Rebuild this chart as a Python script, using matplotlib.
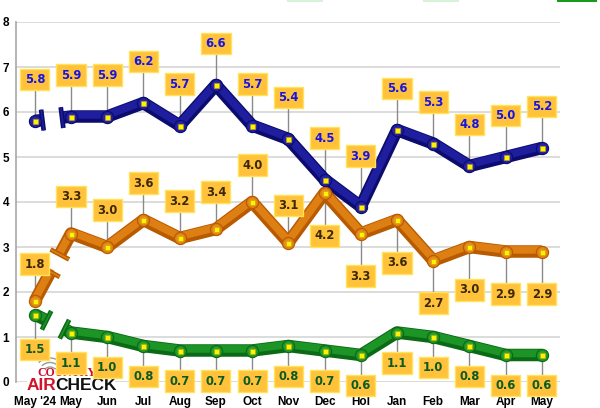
import numpy as np
import matplotlib
matplotlib.use("Agg")
import matplotlib.pyplot as plt
import matplotlib.transforms as mtransforms
from matplotlib.patches import Rectangle, Arc

months = ["May '24", "May", "Jun", "Jul", "Aug", "Sep", "Oct", "Nov",
          "Dec", "Hol", "Jan", "Feb", "Mar", "Apr", "May"]
blue_vals = [5.8, 5.9, 5.9, 6.2, 5.7, 6.6, 5.7, 5.4, 4.5, 3.9, 5.6, 5.3, 4.8, 5.0, 5.2]
orange_vals = [1.8, 3.3, 3.0, 3.6, 3.2, 3.4, 4.0, 3.1, 4.2, 3.3, 3.6, 2.7, 3.0, 2.9, 2.9]
green_vals = [1.5, 1.1, 1.0, 0.8, 0.7, 0.7, 0.7, 0.8, 0.7, 0.6, 1.1, 1.0, 0.8, 0.6, 0.6]
yticks = [0, 1, 2, 3, 4, 5, 6, 7, 8]

# label placement (offset in data units from each point)
blue_off = [0.92] * 15
blue_off[9] = 1.12
orange_off = [0.82] * 8 + [-0.95] * 7
green_off = [-0.78] + [-0.68] * 14

# style per series: dark, mid, light, text colour, break fractions
styles = [
    (blue_vals, blue_off, "#0c0c6e", "#1e1e9e", "#3434c0", "#1414e6", (0.25, 0.71)),
    (orange_vals, orange_off, "#b85a00", "#dd7f12", "#f0a040", "#3a2808", (0.45, 0.67)),
    (green_vals, green_off, "#0b6a16", "#1c9426", "#3cb844", "#0a5a22", (0.36, 0.78)),
]

fig = plt.figure(figsize=(6, 4.08), dpi=100)
fig.patch.set_facecolor("white")
ax = fig.add_axes([16 / 600, 26 / 408, 544 / 600, 360 / 408])
ax.set_xlim(-0.52, 14.5)
ax.set_ylim(0, 8)
x = np.arange(len(months))

for y in yticks:
    ax.axhline(y, color="#d6d6d6", lw=1.2, zorder=0)
for s in ["top", "right", "bottom"]:
    ax.spines[s].set_visible(False)
ax.spines["left"].set_color("#a8a8a8")
ax.spines["left"].set_linewidth(1.2)
ax.set_yticks(yticks)
ax.set_xticks(x)
ax.set_xticklabels(months, fontweight="bold", fontsize=8.5, family="Liberation Sans")
ax.set_yticklabels([str(v) for v in yticks], fontweight="bold", fontsize=8.5,
                   family="Liberation Sans")
ax.tick_params(axis="x", length=0, pad=10)
ax.tick_params(axis="y", length=0, pad=5)

trans = ax.transData
hi = mtransforms.offset_copy(trans, fig=fig, x=0, y=1.6, units="dots")
inv = trans.inverted()

for vals, offs, dark, mid, light, tcol, (f1, f2) in styles:
    p0 = np.array(trans.transform((0, vals[0])))
    p1 = np.array(trans.transform((1, vals[1])))
    a = inv.transform(p0 + f1 * (p1 - p0))
    b = inv.transform(p0 + f2 * (p1 - p0))
    segs = [([0, a[0]], [vals[0], a[1]]), ([b[0]] + list(x[1:]), [b[1]] + vals[1:])]
    for sx, sy in segs:
        ax.plot(sx, sy, color=dark, lw=9, solid_capstyle="butt",
                solid_joinstyle="round", zorder=3)
        ax.plot(sx, sy, color=mid, lw=5.5, solid_capstyle="butt",
                solid_joinstyle="round", zorder=4, transform=hi)
    # break caps (T-bars either side of the gap)
    d = (p1 - p0) / np.linalg.norm(p1 - p0)
    n = np.array([-d[1], d[0]])
    for f, sgn in ((f1, -1), (f2, 1)):
        c = p0 + f * (p1 - p0) + sgn * 1.5 * d
        e = inv.transform(np.array([c + 10.5 * n, c - 10.5 * n]))
        ax.plot(e[:, 0], e[:, 1], color=dark, lw=3.4, solid_capstyle="butt", zorder=5)
        ax.plot(e[:, 0], e[:, 1], color=mid, lw=1.2, solid_capstyle="butt", zorder=5)
    ax.plot(x, vals, "o", ms=8.8, mfc=mid, mec=dark, mew=0.8, zorder=5)
    ax.plot(x, vals, "o", ms=6, mfc=light, mec="none", zorder=5, alpha=0.5)
    ax.plot(x, vals, "s", ms=3.6, mfc="#fff200", mec="#c9a000", mew=0.4, zorder=6)
    for xi, v, o in zip(x, vals, offs):
        ly = v + o
        ax.plot([xi, xi], [v, ly], color="#8a8a8a", lw=1, zorder=2, clip_on=False)
        ax.text(xi, ly, f"{v:.1f}", ha="center", va="center", fontsize=8.3,
                fontweight="bold", color=tcol, family="DejaVu Sans", zorder=8,
                clip_on=False,
                bbox=dict(boxstyle="square,pad=0.38", fc="#ffc23a", ec="#ffe35a", lw=1))

# logo, drawn above the grid but under the value boxes
ax.add_patch(Rectangle((27 / 600, (408 - 394) / 408), 88 / 600, 30 / 408,
                       transform=fig.transFigure, fc="white", ec="none", zorder=1,
                       clip_on=False))
for r in (7, 11.5, 16):
    ax.add_patch(Arc((50, 408 - 374), 2 * r, 2 * r, theta1=45, theta2=135,
                     transform=None, color="#9a9a9a", lw=1, zorder=1.5, clip_on=False))
ax.text(67 / 600, 1 - 373 / 408, "COUNTRY", color="#c8102e", fontsize=8.5,
        fontweight="bold", family="Liberation Serif", ha="center", va="center",
        zorder=2, transform=fig.transFigure)
ax.text(27 / 600, 1 - 385 / 408, "AIR", color="#d0142a", fontsize=12.5,
        fontweight="bold", family="Liberation Sans", ha="left", va="center",
        zorder=2, transform=fig.transFigure)
ax.text(55 / 600, 1 - 385 / 408, "CHECK", color="#111111", fontsize=12.5,
        fontweight="bold", family="Liberation Sans", ha="left", va="center",
        zorder=2, transform=fig.transFigure)

# clipped legend remnants at the top edge
for x0, w, c in [(287, 36, "#d8f2d8"), (423, 36, "#d8f2d8"), (557, 40, "#1a9a1a")]:
    fig.patches.append(Rectangle((x0 / 600, 1 - 2 / 408), w / 600, 2 / 408,
                                 transform=fig.transFigure, fc=c, ec="none"))

fig.savefig("out.png", dpi=100)
